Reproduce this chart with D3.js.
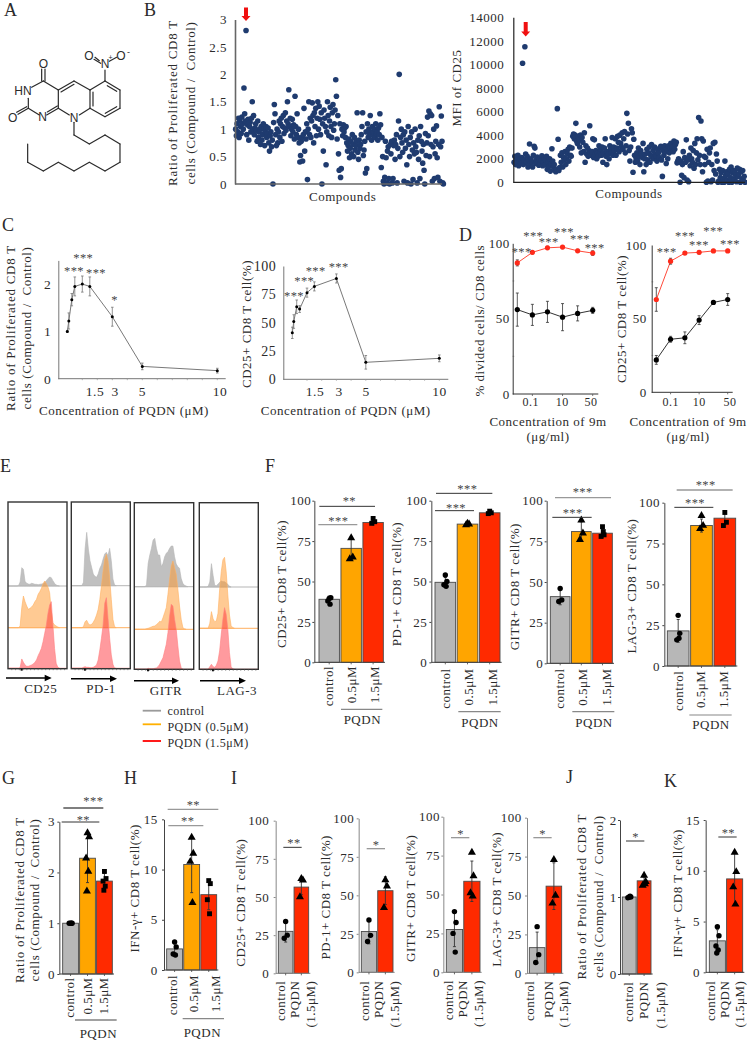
<!DOCTYPE html>
<html><head><meta charset="utf-8">
<script src="https://cdn.jsdelivr.net/npm/d3@7/dist/d3.min.js"></script>
<style>
html,body{margin:0;padding:0;background:#fff}
svg{display:block}
text{font-family:"Liberation Serif",serif;font-size:13px;letter-spacing:.5px;fill:#2b2b2b}
</style></head><body><svg id="c" width="747" height="1040"></svg>
<script>
// ---------- data ----------
const ratioValues=[1.0,.88,1.1,.95,1.2,.85,1.15,1.05,.92,1.22,1.1,1.0,1.75,1.28,1.15,2.8,.9,1.08,1.18,.8,1.05,1.12,.95,1.2,1.5,1.0,1.25,.9,1.02,1.1,.98,.78,1.15,.85,.95,1.0,.72,1.05,.8,.9,1.1,1.0,.7,.95,1.05,.85,.92,1.02,.75,.6,.88,.95,.68,.8,0,1.12,1.45,1.28,.9,.7,1.0,.75,.95,1.15,.85,1.1,1.2,.78,1.05,1.25,.92,1.02,1.3,.98,1.15,1.5,1.1,1.72,1.05,1.2,.88,1.0,1.18,.95,1.08,.82,1.6,1.05,.9,1.28,.85,1.0,.75,.4,.52,.78,.85,.42,.9,1.38,.6,.95,.82,1.1,.08,1.0,1.5,.9,1.2,.85,1.15,1.48,1.25,.75,1.3,1.05,1.38,.88,1.2,1.5,1.0,1.42,1.18,.9,1.3,0,1.1,.6,1.35,1.2,1.05,.35,.95,1.5,1.25,.88,1.15,1.4,1.05,.85,1.3,1.45,.98,1.1,1.35,1.9,1.6,.82,1.25,.55,.25,1.1,.12,.28,1.0,.88,1.08,.95,1.02,.85,1.05,.75,.6,.7,.82,.48,.65,.78,.55,.9,.72,.5,.85,.62,.7,.78,1.3,.58,.45,.8,.65,.72,.9,1.05,1.3,.52,.62,.78,.2,.95,.28,1.1,.85,1.0,.92,1.25,.9,.8,1.05,.95,.88,1.0,.85,1.1,.92,.95,.8,1.02,.9,1.28,1.08,.3,.85,.5,.05,0,.12,.78,.48,.02,.6,.68,.1,0,.72,.55,.78,.02,.1,.7,.8,.45,.72,.9,.02,.65,1.15,2.0,.5,.85,1.0,.75,.58,.9,.05,.95,.65,.8,.35,.02,1.05,.72,.5,.85,0,.95,.62,.08,.75,.55,1.0,.68,.58,.02,.8,.45,.88,.1,1.05,.78,.6,.38,.72,.25,0,.92,.52,.75,1.22,.88,1.33,.5,1.28,.72,1.25,.05,.68,1.0,.1,.55,.78,1.06,.48,.12,.72,1.41,.05,.68,1.24,.78,.02,0];
const cd25MfiValues=[1700,2200,1500,1900,1650,2300,1400,1800,2000,1600,2100,10100,1500,1900,11500,2400,1700,2200,1300,1850,3250,1600,2000,1750,1300,2300,3050,2900,1600,1900,2150,1700,1450,2000,1600,1850,2250,1400,1750,2050,1500,1900,2200,1100,1650,1350,2000,950,1550,2850,1800,1300,1500,1050,900,1100,6250,3650,1000,1250,2300,1700,2500,1300,2100,1900,2600,1500,2000,2400,2800,1800,3000,2300,2200,2900,3900,4100,3700,4000,5000,3500,3300,3900,3600,3000,4000,2500,3800,3400,2600,4200,1700,3100,2400,2900,2200,2700,4800,2500,2300,2600,3700,2100,3600,2400,2700,2000,2500,2200,3100,2600,2800,2300,3000,1700,2500,2900,3700,2200,1500,2600,2400,2000,3100,2800,2500,3800,2300,3000,2700,3700,2300,2900,3900,3400,2600,4000,3300,3000,4200,2800,3700,4300,2500,3100,5850,4100,5000,2700,1800,3000,4550,4200,850,3650,2300,1700,2000,2500,1800,2900,2200,1500,2700,2400,2100,3300,900,2000,2400,1500,2800,1900,2500,3000,1700,2300,3200,2100,2700,2000,3000,2400,2200,1800,2800,2500,2100,2900,3050,1900,500,2700,2300,3100,2600,1600,2800,2000,3100,2500,2900,3300,2700,3000,2600,3500,2800,3200,3400,1650,1800,2000,1700,0,1800,600,1500,2600,400,2100,1700,3600,200,1900,50,2300,1400,2900,2000,1700,2700,1200,3300,1500,2500,3700,1900,5500,2300,1500,5200,3700,900,3500,2200,1500,2100,0,2800,100,1700,2500,2900,50,1500,200,3300,1000,3400,700,2400,1800,0,100,1100,400,800,0,1000,300,0,1800,600,900,200,700,0,1100,400,1300,0,800,1000,300,900,600,50,1200,500,700,1100,0,900,300,1000,100,500,0];

const pqdnConc=[0,.1,.3,.5,1,1.5,3,5,10];
const cRatio=[1.0,1.22,1.67,1.95,2.0,1.95,1.31,.26,.17];
const cRatioErr=[.02,.17,.13,.2,.17,.2,.2,.07,.05];
const cCd25=[41,51,64,62,76.5,82,89,15,18.5];
const cCd25Err=[5,6,6,3,4,4,4,6,3];
const cTickLabels=["1.5","3","5","10"];

const nineMCats=["0.01","0.1","1","10","25","50"];
const nineMLabels=["0.1","10","50"];
const dDivRed=[87,94,97,97.5,95,93.5], dDivRedErr=[2,1,1,1,1,1.5];
const dDivBlack=[56,52.5,54.5,51,53.5,55.5], dDivBlackErr=[11,7,7,9,5,2];
const dCd25Red=[63,89,94.5,95,96,96], dCd25RedErr=[8,2,1,1,1,1];
const dCd25Black=[22,36,37,49,61,63], dCd25BlackErr=[3,2,4,3,1,4];

const histCD25Control=[0,0,0,0,0,0,1,12,55,50,14,8,6,5,8,7,5,5,4,5,6,7,10,16,22,27,25,16,8,3,1,0];
const histCD25Low=[0,0,0,0,0,0,0,5,60,95,78,65,55,58,62,68,78,85,100,108,118,132,140,132,122,105,50,15,8,5,2,0];
const histCD25High=[0,0,0,0,0,0,0,2,28,18,10,6,6,8,10,13,18,25,38,48,60,80,105,130,165,190,200,130,60,15,3,0];
const histPD1Control=[0,0,0,0,0,0,0,10,110,160,110,75,55,35,28,25,35,52,62,80,95,100,90,112,75,20,2,0];
const histPD1Low=[0,0,0,0,0,0,0,3,18,22,12,8,10,16,25,38,55,85,125,170,205,220,200,150,85,25,3,0];
const histPD1High=[0,0,0,0,0,0,0,3,5,3,3,2,2,3,6,10,25,55,90,130,195,212,150,90,40,12,0,0];
const histGITRControl=[0,0,0,0,0,0,0,5,70,95,115,140,145,115,95,95,60,70,90,100,105,115,122,122,90,68,60,55,25,10,4,2,0];
const histGITRLow=[0,0,0,0,0,0,0,2,3,5,7,9,10,14,18,24,22,35,50,65,105,150,190,205,185,165,120,70,30,6,1,0];
const histGITRHigh=[0,0,0,0,0,0,0,0,3,2,2,2,3,4,8,15,25,35,55,75,110,160,195,190,150,120,70,25,5,0];
const histLAG3Control=[0,0,0,0,0,2,15,70,35,5,4,8,14,18,16,16,12,8,2,0];
const histLAG3Low=[0,0,0,0,0,0,15,50,28,20,22,45,115,170,205,213,170,100,40,8,2,0];
const histLAG3High=[0,0,0,0,0,0,8,15,8,6,12,25,55,105,150,185,165,120,50,8,1,0];

const threeCats=["control","0.5μM","1.5μM"];
const twoCats=["control","PQDN","(1.5μM)"];
const fCd25Bars=[39,70.5,86.5], fCd25Pts=[[39.5,40,38,36],[77,65,64],[89,87,86]], fCd25Err=[2,7,1.5];
const fPd1Bars=[49.5,85.5,92.5], fPd1Pts=[[54,50,48,47],[86,85.5,85],[93.5,92.5,92]], fPd1Err=[3,.5,1];
const fGitrBars=[41,81,80], fGitrPts=[[46,39,38],[88,80,76],[84,79,78,81]], fGitrErr=[5,6,2.5];
const fLagBars=[21.5,86,90.5], fLagPts=[[31,20,16,17],[92,86,84],[94,88,86]], fLagErr=[7,4,4];
const gBars=[1,2.28,1.83], gPts=[[1,1,1,1],[2.78,2.7,2.28,2.02,1.63],[2.02,1.88,1.83,1.73,1.65]], gErr=[.02,.48,.15];
const hBars=[2.1,10.5,7.5], hPts=[[2.8,2.3,1.6,1.5],[13.2,11.6,10.8,6.7],[8.9,8.6,7,5.6]], hErr=[.5,2.8,1.5];
const iCd25Bars=[27.5,56.5], iCd25Pts=[[34,25,23],[62,61,50]], iCd25Err=[7,5];
const iPd1Bars=[26.5,53], iPd1Pts=[[34,24,20],[60,56,42]], iPd1Err=[8,9];
const iGitrBars=[27.5,58.5], iGitrPts=[[39,32,25,13],[77,62,51,49]], iGitrErr=[11,13];
const iLagBars=[16.5,56], iLagPts=[[30,12,7],[73,50,45]], iLagErr=[10,15];
const jBars=[1,1.21], jPts=[[1,1,.99,1.01],[1.28,1.2,1.15,1.17]], jErr=[.01,.05];
const kBars=[3.1,9.2], kPts=[[4.5,3.6,2.6,2.2,1.9],[11.8,9.9,8.4,6.7]], kErr=[1.1,2.5];
const percentTicks=[0,25,50,75,100];

// ---------- drawing ----------
const svg=d3.select("#c");
const GREY="#b7b7b7", ORANGE="#ffa500", RED="#ff2a00", DARK="#3c3c3c";
function txt(x,y,s,o={}){const t=svg.append("text").attr("x",x).attr("y",y).text(s)
  .attr("text-anchor",o.a||"middle").attr("dominant-baseline",o.b||"auto");
  if(o.size)t.style("font-size",o.size+"px"); if(o.ls!=null)t.style("letter-spacing",o.ls+"px");
  if(o.font)t.style("font-family",o.font); if(o.rot)t.attr("transform",`rotate(${o.rot} ${x} ${y})`);
  return t;}
function rotLabel(x,y,s,o={}){return txt(x,y,s,{rot:-90,b:"central",...o});}
function stars(x,cy,s){return txt(x,cy+6,s,{size:12.5,ls:.4}).style("fill","#444");}
function line(x1,y1,x2,y2,c,w){return svg.append("line").attr("x1",x1).attr("y1",y1).attr("x2",x2).attr("y2",y2).attr("stroke",c||"#333").attr("stroke-width",w||1);}

// panel letters
[["A",4,16],["B",144,16],["C",2,231],["D",459,241],["E",0,472],["F",265,472],["G",2,784],["H",124,784],["I",231,784],["J",566,783],["K",664,787]]
 .forEach(d=>txt(d[1],d[2],d[0],{a:"start",size:18,ls:0}));

// A: chemical structure (zoomed-coordinates / 3)
(function(){
 const g=svg.append("g").attr("transform","scale(.3333)").attr("stroke","#2a2a2a").attr("stroke-width",3.6).attr("fill","none").attr("stroke-linecap","round");
 const segs=[[130,243,175,270],[175,270,175,325],[175,325,140,345],[118,345,85,325],[85,325,85,295],[95,262,130,243],
  [175,270,222,243],[183,276,222,253],[222,243,270,270],[270,270,270,325],[270,325,238,345],[208,345,175,325],
  [270,270,315,243],[315,243,360,270],[360,270,360,325],[360,325,315,350],[315,350,270,325],[322,257,350,274],[350,320,316,340],[279,276,279,318],
  [125,243,125,207],[135,243,135,207],[85,325,54,343],[80,320,50,337],[172,318,142,336],
  [315,243,315,210],[302,190,282,178],[298,182,285,172],[328,184,350,172],
  [222,367,222,405],[222,405,268,432],[268,432,315,405],[315,405,360,432],[360,432,360,487],[360,487,315,513],[315,513,268,487],[268,487,222,513],[222,513,175,487],[175,487,130,513],[130,513,83,487],[83,487,83,432]];
 g.selectAll("line").data(segs).join("line").attr("x1",d=>d[0]).attr("y1",d=>d[1]).attr("x2",d=>d[2]).attr("y2",d=>d[3]);
 const f="Liberation Sans";
 [["O",43.3,68],["HN",23,95],["O",12.7,122],["N",42.7,121],["N",74,122],["N",105,68],["O",89,60],["O",121,60]].forEach(d=>txt(d[1],d[2],d[0],{size:12,ls:0,font:f,b:"auto"}));
 txt(110.5,60,"+",{size:7,ls:0,font:f}); txt(128.5,55,"-",{size:9,ls:0,font:f});
})();

// B: scatter panels
function scatter(vals,yMax,ticks,ax){
 const y=d3.scaleLinear().domain([0,yMax]).range([ax.y0,ax.yTop]);
 const x=d3.scaleLinear().domain([-1,299]).range([ax.x0,ax.x1]);
 svg.append("g").selectAll("circle").data(vals).join("circle").attr("cx",(d,i)=>x(i)).attr("cy",d=>y(d)).attr("r",2.8).attr("fill","#1f3b6f");
 const g=svg.append("g").attr("transform",`translate(${ax.x0},0)`).call(d3.axisLeft(y).tickValues(ticks).tickSize(0).tickPadding(ax.pad).tickFormat(d=>d));
 g.select(".domain").attr("stroke",ax.c).attr("stroke-width",ax.w);
 g.selectAll("text").style("font-size","13px").style("font-family","Liberation Serif");
 line(ax.x0,ax.y0,ax.xEnd,ax.y0,ax.c,ax.w);
}
scatter(ratioValues,3,[0,.5,1,1.5,2,2.5,3],{x0:235,x1:442,y0:184,yTop:19.5,xEnd:442,c:"#666",w:1.6,pad:8});
scatter(cd25MfiValues,14000,d3.range(0,14001,2000),{x0:513.3,x1:745,y0:182.3,yTop:17.3,xEnd:745,c:"#222",w:1.2,pad:9});
const ratio1="Ratio of Proliferated CD8 T", ratio2="cells (Compound /\u00a0\u00a0Control)";
rotLabel(172,103,ratio1,{ls:.75}); rotLabel(190,103,ratio2,{ls:.6});
txt(342.7,201,"Compounds"); rotLabel(456,88,"MFI of CD25"); txt(629,198,"Compounds");
function redArrow(x,y1,y2){svg.append("path").attr("fill","#f01010")
 .attr("d",d3.line()([[x-2,y1],[x+2,y1],[x+2,y2-5],[x+4.5,y2-5],[x,y2],[x-4.5,y2-5],[x-2,y2-5]]));}
redArrow(246,7.5,21); redArrow(525.7,22,36.5);

// C: dose response
function doseChart(v,e,o){
 const x=d3.scaleLinear().domain([0,10]).range([o.x0,o.x10]);
 const y=d3.scaleLinear().domain([0,o.max]).range([o.y0,o.yTop]);
 const g=svg.append("g").attr("transform",`translate(${o.ax},0)`).call(d3.axisLeft(y).tickValues(o.ticks).tickSize(0).tickPadding(o.pad).tickFormat(d=>d));
 g.select(".domain").attr("stroke","#777").attr("stroke-width",1);
 g.selectAll("text").style("font-size",o.fs+"px").style("font-family","Liberation Serif");
 line(o.ax,o.y0,o.xEnd,o.y0,"#777",1);
 d3.range(1,11).forEach(c=>{ if(c>=1) line(x(c),o.y0,x(c),o.y0+1.5,"#999",.7);});
 const L=d3.line().x((d,i)=>x(pqdnConc[i])).y(d=>y(d));
 svg.append("path").attr("d",L(v)).attr("fill","none").attr("stroke","#555").attr("stroke-width",.8);
 v.forEach((d,i)=>{const X=x(pqdnConc[i]);
  line(X,y(d-e[i]),X,y(d+e[i]),"#777",.8);line(X-1.3,y(d-e[i]),X+1.3,y(d-e[i]),"#777",.8);line(X-1.3,y(d+e[i]),X+1.3,y(d+e[i]),"#777",.8);
  svg.append("circle").attr("cx",X).attr("cy",y(d)).attr("r",1.5).attr("fill","#000");});
 cTickLabels.forEach((s,i)=>txt(o.lab[i],396,s,{size:o.xfs||13.5}));
}
doseChart(cRatio,cRatioErr,{x0:67.3,x10:217.3,ax:58.3,y0:378.7,yTop:260.4,max:2.5,ticks:[0,1,2],pad:7,fs:13.5,xEnd:225.7,lab:[95,115,142.3,220]});
doseChart(cCd25,cCd25Err,{x0:292.3,x10:439.3,ax:283.3,y0:379.3,yTop:266,max:100,ticks:percentTicks,pad:7,fs:14,xEnd:448.3,lab:[315,339,366,439.5]});
rotLabel(10.7,328,ratio1,{ls:.75});rotLabel(26,328,ratio2,{ls:.6});
txt(124,415,"Concentration of PQDN (μM)");txt(345.7,415,"Concentration of PQDN (μM)");
rotLabel(246.7,324,"CD25+ CD8 T cell(%)");
[[83.3,256,"***"],[74,269,"***"],[96,271,"***"],[114.5,298,"*"],[294,294,"***"],[304.3,279.3,"***"],[315.7,269,"***"],[338.7,265.3,"***"]].forEach(d=>stars(d[0],d[1],d[2]));

// D: 9m concentration series
function nineM(red,redE,blk,blkE,o){
 const x=d3.scalePoint().domain(nineMCats).range([o.x0,o.x1]);
 const y=d3.scaleLinear().domain([0,100]).range([o.y0,o.yTop]);
 const g=svg.append("g").attr("transform",`translate(${o.ax},0)`).call(d3.axisLeft(y).tickValues([0,50,100]).tickSize(0).tickPadding(o.pad));
 g.select(".domain").attr("stroke","#333").attr("stroke-width",1);
 g.selectAll("text").style("font-size","13px").style("font-family","Liberation Serif");
 line(o.ax,o.y0,o.xEnd,o.y0,"#333",1);
 [25,75].forEach(t=>line(o.ax,y(t),o.ax+1.5,y(t),"#555",.7));
 [["0.1"],["10"],["50"]].forEach(t=>line(x(t[0]),o.y0,x(t[0]),o.y0+2,"#555",.8));
 [[blk,blkE,"#000","#333"],[red,redE,"#ff2a1a","#ff4a3a"]].forEach(([v,e,c,lc])=>{
  const L=d3.line().x((d,i)=>x(nineMCats[i])).y(d=>y(d));
  svg.append("path").attr("d",L(v)).attr("fill","none").attr("stroke",lc).attr("stroke-width",1);
  v.forEach((d,i)=>{const X=x(nineMCats[i]);
   line(X,y(d-e[i]),X,y(d+e[i]),"#333",.8);line(X-1.5,y(d-e[i]),X+1.5,y(d-e[i]),"#333",.8);line(X-1.5,y(d+e[i]),X+1.5,y(d+e[i]),"#333",.8);
   svg.append("circle").attr("cx",X).attr("cy",y(d)).attr("r",2.6).attr("fill",c);});
 });
 nineMLabels.forEach((s,i)=>txt(o.lab[i],406,s,{size:12}));
 txt(o.t,426,"Concentration of 9m");txt(o.t,441,"(μg/ml)");
}
nineM(dDivRed,dDivRedErr,dDivBlack,dDivBlackErr,{ax:512.7,x0:517.3,x1:592.7,y0:394,yTop:243.3,pad:3,xEnd:598.3,lab:[530.7,562.3,591],t:548});
nineM(dCd25Red,dCd25RedErr,dCd25Black,dCd25BlackErr,{ax:651.7,x0:656.3,x1:727.7,y0:392.3,yTop:245,pad:5,xEnd:732.7,lab:[670.7,699.3,730],t:688});
rotLabel(479.3,320.7,"% divided cells/ CD8 cells");rotLabel(621.7,319,"CD25+ CD8 T cell(%)");
[[521.7,250,"***"],[533.3,233.7,"***"],[548.7,240.3,"***"],[564,230.3,"***"],[580,237,"***"],[594.7,245.7,"***"],
 [666.7,250,"***"],[685,233.7,"***"],[699,242.7,"***"],[713.3,229,"***"],[730,241.7,"***"]].forEach(d=>stars(d[0],d[1],d[2]));

// E: histograms
const histC={c:"rgba(130,130,130,.5)",l:"#b5b5b5"},histL={c:"rgba(255,150,40,.5)",l:"#ffb060"},histH={c:"rgba(255,30,40,.45)",l:"#ff8080"};
function histPanel(o,a,b,c){
 const x=d3.scaleLinear().domain([0,36]).range([o.x0,o.x1]);
 const h=d3.scaleLinear().domain([0,300]).range([0,100]);
 [[a,o.b[0],histC],[b,o.b[1],histL],[c,o.b[2],histH]].forEach(([v,base,st])=>{
  const ar=d3.area().x((d,i)=>x(i+.4)).y0(base).y1(d=>base-h(d)).curve(d3.curveLinear);
  svg.append("path").attr("d",ar(v)).attr("fill",st.c).attr("stroke",st.l).attr("stroke-width",.6);
  line(o.x0,base,o.x1,base,st.l,1);
 });
 svg.append("rect").attr("x",o.x0).attr("y",o.y0).attr("width",o.x1-o.x0).attr("height",o.y1-o.y0).attr("fill","none").attr("stroke","#333").attr("stroke-width",1.4);
 d3.range(1,16).forEach(i=>line(x(i*2.3),o.y1,x(i*2.3),o.y1+1.5,"#555",.6));
 svg.append("rect").attr("x",x(7.7)).attr("y",o.y1).attr("width",2).attr("height",2).attr("fill","#111");
 line(o.a[0],o.a[2],o.a[1]-5,o.a[2],"#000",1.6);
 svg.append("path").attr("d",d3.line()([[o.a[1],o.a[2]],[o.a[1]-7,o.a[2]-3.3],[o.a[1]-7,o.a[2]+3.3]])).attr("fill","#000");
 txt(o.l[0],o.l[1],o.name);
}
histPanel({x0:8,x1:67,y0:502,y1:668.7,b:[586,627.7,668.3],a:[6,51.7,678],l:[40.7,693],name:"CD25"},histCD25Control,histCD25Low,histCD25High);
histPanel({x0:71.3,x1:130.3,y0:502,y1:668.7,b:[585.7,627.7,668.3],a:[71,117,678.7],l:[101,693],name:"PD-1"},histPD1Control,histPD1Low,histPD1High);
histPanel({x0:134.3,x1:193.7,y0:502.7,y1:669.3,b:[586.7,629.3,669.3],a:[134,179,680.7],l:[166,695],name:"GITR"},histGITRControl,histGITRLow,histGITRHigh);
histPanel({x0:199.3,x1:258.3,y0:502.7,y1:669.3,b:[587,628.3,669.3],a:[200,246,680.7],l:[237,695],name:"LAG-3"},histLAG3Control,histLAG3Low,histLAG3High);
[["control",711,"#9a9a9a"],["PQDN (0.5μM)",727,"#ffb000"],["PQDN (1.5μM)",743,"#ff0000"]].forEach((d,i)=>{
 line(142.7,[710.7,724.3,741][i],161,[710.7,724.3,741][i],d[2],1.8);
 txt(167.5,d[1]+4,d[0],{a:"start",size:12,ls:.45});});

// F-K: bar panels, geometry given in reference-crop units
const sym={c:d3.symbol().type(d3.symbolCircle).size(23)(),t:d3.symbol().type(d3.symbolTriangle).size(28)(),s:d3.symbol().type(d3.symbolSquare).size(24)()};
function barPanel(o){
 const X=v=>o.ox+v/3,Y=v=>o.oy+v/3;
 const cats=o.cats;
 const x=d3.scaleBand().domain(o.vals.map((d,i)=>i)).range([X(o.barL),X(o.barR)]).paddingInner(.07);
 const y=d3.scaleLinear().domain([0,o.max]).range([Y(o.y0),Y(o.yTop)]);
 svg.append("g").selectAll("rect").data(o.vals).join("rect")
  .attr("x",(d,i)=>x(i)).attr("y",d=>y(d)).attr("width",x.bandwidth()).attr("height",d=>y(0)-y(d))
  .attr("fill",(d,i)=>o.colors[i]).attr("stroke","#4a4a4a").attr("stroke-width",.9);
 o.pts.forEach((arr,k)=>{const cx=x(k)+x.bandwidth()/2;
  line(cx,y(o.vals[k]-o.err[k]),cx,y(o.vals[k]+o.err[k]),"#333",.9);
  line(cx-1.5,y(o.vals[k]-o.err[k]),cx+1.5,y(o.vals[k]-o.err[k]),"#333",.9);
  line(cx-1.5,y(o.vals[k]+o.err[k]),cx+1.5,y(o.vals[k]+o.err[k]),"#333",.9);
  const jit=[0,1.6,-1.4,.8,-.6];
  svg.append("g").selectAll("path").data(arr).join("path").attr("d",sym[o.syms[k]])
   .attr("transform",(d,i)=>`translate(${cx+jit[i%5]},${y(d)})`).attr("fill","#000");
 });
 const g=svg.append("g").attr("transform",`translate(${X(o.ax)},0)`).call(d3.axisLeft(y).tickValues(o.ticks).tickSize(2).tickSizeOuter(0).tickPadding(Math.max(1,(o.ax-o.tickR)/3-2)).tickFormat(d=>d));
 g.select(".domain").attr("stroke",o.axC||"#444").attr("stroke-width",1);
 g.selectAll("line").attr("stroke",o.axC||"#444");
 g.selectAll("text").style("font-size","13px").style("font-family","Liberation Serif");
 line(X(o.ax),Y(o.y0),X(o.barR+5),Y(o.y0),o.axC||"#444",1);
 o.vals.forEach((d,i)=>line(x(i)+x.bandwidth()/2,Y(o.y0),x(i)+x.bandwidth()/2,Y(o.y0)+2,"#444",.8));
 cats.forEach((c,i)=>rotLabel(X(o.labX[i]),Y(o.labTop),c,{a:"end"}));
 o.br.forEach(b=>{line(X(b[0]),Y(b[2]),X(b[1]),Y(b[2]),b[5]||"#333",b[5]?1.3:1);stars(X(b[3]),Y(b[4]),b[6]);});
 if(o.pq){line(X(o.pq[0]),Y(o.pq[2]),X(o.pq[1]),Y(o.pq[2]),o.pq[5]||"#888",1.2);txt(X(o.pq[3]),Y(o.pq[4])+5,"PQDN");}
 o.yl.forEach(l=>rotLabel(X(l[0]),Y(l[1]),l[2],l[3]?{ls:l[3]}:{}));
}
const tri3=[GREY,ORANGE,RED], two=[GREY,RED], s3=["c","t","s"], s2=["c","t"];
const GRAY="#999";
const fBase={ox:270,oy:460,max:100,ticks:percentTicks,colors:tri3,syms:s3,cats:threeCats};
barPanel({...fBase,vals:fCd25Bars,pts:fCd25Pts,err:fCd25Err,ax:133,tickR:125,y0:607,yTop:122,barL:147,barR:340,labX:[175,243,313],labTop:618,
 br:[[145,262,194,205,178,GRAY,"***"],[148,315,139,238,118,null,"**"]],pq:[213,337,748,277,778],yl:[[35,372,"CD25+ CD8 T cell(%)"]]});
barPanel({...fBase,vals:fPd1Bars,pts:fPd1Pts,err:fPd1Err,ax:484,tickR:472,y0:607,yTop:122,barL:495,barR:690,labX:[528,595,667],labTop:625,
 br:[[495,612,152,558,138,null,"***"],[498,667,100,592,80,null,"***"]],pq:[565,692,755,630,785],yl:[[378,372,"PD-1+ CD8 T cell(%)"]]});
barPanel({...fBase,vals:fGitrBars,pts:fGitrPts,err:fGitrErr,ax:830,tickR:820,y0:610,yTop:122,barL:841,barR:1027,labX:[870,938,1010],labTop:625,
 br:[[847,965,172,908,152,null,"***"],[855,1023,113,938,90,GRAY,"***"]],pq:[907,1033,755,972,785],yl:[[733,380,"GITR+ CD8 T cell(%)"]]});
barPanel({...fBase,vals:fLagBars,pts:fLagPts,err:fLagErr,ax:1183,tickR:1170,y0:618,yTop:128,barL:1192,barR:1397,labX:[1225,1293,1362],labTop:632,
 br:[[1213,1330,142,1275,123,null,"***"],[1220,1388,90,1307,68,GRAY,"***"]],pq:[1258,1385,765,1323,793],yl:[[1083,378,"LAG-3+ CD8 T cell(%)"]]});
const gBase={ox:0,oy:770,colors:tri3,syms:s3,cats:threeCats};
barPanel({...gBase,vals:gBars,pts:gPts,err:gErr,max:3,ticks:[0,1,2,3],ax:178,tickR:165,y0:612,yTop:155,barL:188,barR:337,labX:[210,262,312],labTop:622,
 br:[[185,298,156,250,143,null,"**"],[190,310,114,280,88,"#555","***"]],pq:[225,350,750,295,790,"#444"],yl:[[58,390,ratio1,.75],[103,390,ratio2,.6]]});
barPanel({...gBase,vals:hBars,pts:hPts,err:hErr,max:15,ticks:[0,5,10,15],ax:492,tickR:473,y0:600,yTop:148,barL:500,barR:650,labX:[517,580,645],labTop:615,
 br:[[505,610,167,563,148,GRAY,"**"],[503,655,118,580,100,GRAY,"**"]],pq:[548,672,746,607,786],yl:[[405,355,"IFN-γ+ CD8 T cell(%)"]]});
const iBase={ox:220,oy:770,max:100,ticks:percentTicks,colors:two,syms:s2,cats:twoCats,axC:"#888"};
barPanel({...iBase,vals:iCd25Bars,pts:iCd25Pts,err:iCd25Err,ax:167,tickR:148,y0:610,yTop:152,barL:175,barR:266,labX:[183,225,272],labTop:632,
 br:[[190,245,232,222,212,null,"**"]],yl:[[62,398,"CD25+ CD8 T cell(%)"]]});
barPanel({...iBase,vals:iPd1Bars,pts:iPd1Pts,err:iPd1Err,ax:416,tickR:403,y0:607,yTop:145,barL:424,barR:519,labX:[435,477,525],labTop:632,
 br:[[440,495,236,468,218,GRAY,"*"]],yl:[[318,382,"PD-1+ CD8 T cell(%)"]]});
barPanel({...iBase,vals:iGitrBars,pts:iGitrPts,err:iGitrErr,ax:670,tickR:660,y0:607,yTop:140,barL:679,barR:780,labX:[685,728,775],labTop:630,
 br:[[693,748,203,722,185,GRAY,"*"]],yl:[[572,385,"GITR+ CD8 T cell(%)"]]});
barPanel({...iBase,vals:iLagBars,pts:iLagPts,err:iLagErr,ax:921,tickR:905,y0:610,yTop:143,barL:928,barR:1025,labX:[930,985,1030],labTop:632,
 br:[[940,995,203,968,185,GRAY,"*"]],yl:[[830,388,"LAG-3+ CD8 T cell(%)"]]});
const jBase={ox:530,oy:770,colors:two,syms:s2,cats:twoCats};
barPanel({...jBase,vals:jBars,pts:jPts,err:jErr,max:2,ticks:[0,1,2],ax:270,tickR:260,y0:612,yTop:150,barL:277,barR:363,labX:[295,340,393],labTop:635,
 br:[[288,343,213,317,195,null,"*"]],yl:[[155,380,ratio1,.75],[205,380,ratio2,.6]]});
barPanel({...jBase,vals:kBars,pts:kPts,err:kErr,max:15,ticks:[0,5,10,15],ax:527,tickR:510,y0:607,yTop:150,barL:538,barR:638,labX:[542,585,630],labTop:632,
 br:[[565,620,201,595,182,null,"**"]],yl:[[443,370,"IFN-γ+ CD8 T cell(%)"]]});
</script></body></html>
